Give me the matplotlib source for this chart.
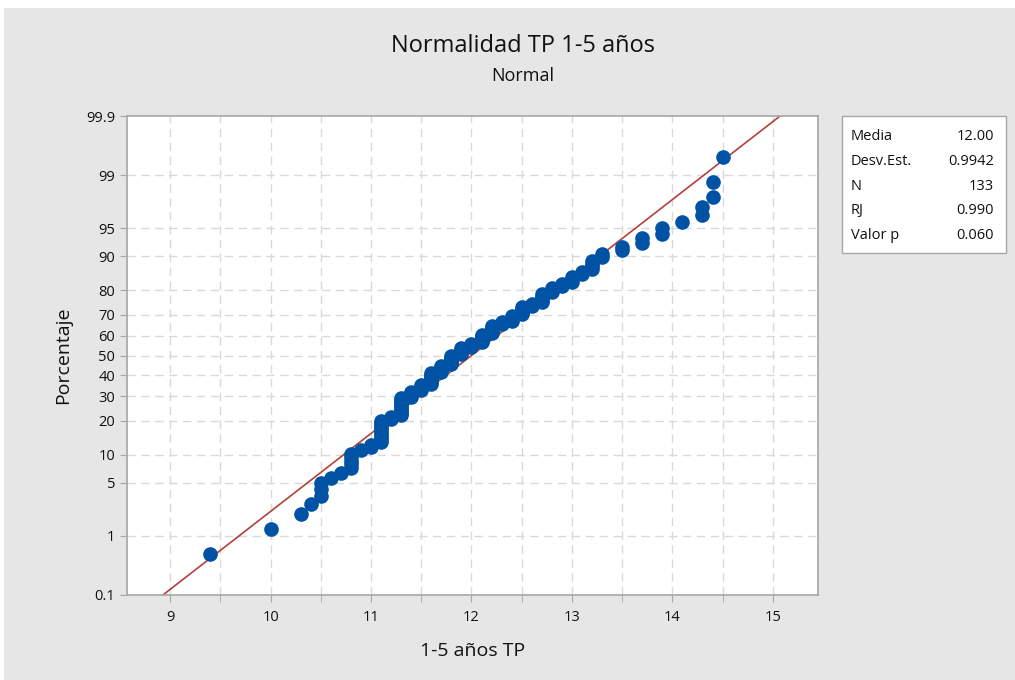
import numpy as np
import matplotlib.pyplot as plt
from matplotlib.patches import Rectangle
from statistics import NormalDist

plt.rcParams['font.family'] = ['Open Sans', 'DejaVu Sans']

# observed values (1-5 años TP) and how many times each occurs
values = [9.4, 10.0, 10.3, 10.4, 10.5, 10.6, 10.7, 10.8, 10.9, 11.0,
          11.1, 11.2, 11.3, 11.4, 11.5, 11.6, 11.7, 11.8, 11.9, 12.0,
          12.1, 12.2, 12.3, 12.4, 12.5, 12.6, 12.7, 12.8, 12.9, 13.0,
          13.1, 13.2, 13.3, 13.5, 13.7, 13.9, 14.1, 14.3, 14.4, 14.5]
counts = [1, 1, 1, 1, 3, 1, 1, 5, 1, 2,
          10, 2, 10, 4, 4, 8, 5, 7, 5, 3,
          6, 6, 2, 4, 5, 2, 5, 3, 2, 3,
          2, 4, 2, 2, 2, 2, 1, 2, 2, 1]

mean, sd = 12.00, 0.9942
pct_ticks = [0.1, 1, 5, 10, 20, 30, 40, 50, 60, 70, 80, 90, 95, 99, 99.9]
x_ticks = [9, 10, 11, 12, 13, 14, 15]
stat_labels = ["Media", "Desv.Est.", "N", "RJ", "Valor p"]
stat_values = ["12.00", "0.9942", "133", "0.990", "0.060"]

nd = NormalDist()
data = np.repeat(values, counts)
n = len(data)
ranks = np.arange(1, n + 1)
z_pts = np.array([nd.inv_cdf(p) for p in (ranks - 0.3) / (n + 0.4)])

bg = "#e6e6e6"
txt = "#111111"
fig = plt.figure(figsize=(10.15, 6.8), dpi=100, facecolor=bg)
fig.patches.append(Rectangle((0, 0.988), 1, 0.012, transform=fig.transFigure,
                             facecolor="white", edgecolor="none", zorder=-1))
fig.patches.append(Rectangle((0, 0), 0.004, 1, transform=fig.transFigure,
                             facecolor="white", edgecolor="none", zorder=-1))

ax = fig.add_axes([0.1251, 0.125, 0.6808, 0.7044])
ax.set_facecolor("white")

z_lo, z_hi = nd.inv_cdf(0.001), nd.inv_cdf(0.999)
xl = np.array([8.5, 15.5])
ax.plot(xl, (xl - mean) / sd, color="#b3403d", lw=1.2, zorder=2)
ax.plot(data, z_pts, "o", color="#0053a4", ms=9.5, mec="#0053a4", zorder=3)

ax.set_xlim(8.57, 15.45)
ax.set_ylim(z_lo, z_hi)
ax.set_yticks([nd.inv_cdf(p / 100) for p in pct_ticks])
ax.set_yticklabels([f"{p:g}" for p in pct_ticks])
ax.set_xticks(x_ticks)
ax.set_xticks(np.arange(9.5, 15.5, 1.0), minor=True)

grid_kw = dict(color="#d9d9d9", lw=1.0, ls=(0, (6, 4)), zorder=0)
for x in np.arange(9.0, 15.5, 0.5):
    ax.axvline(x, **grid_kw)
for p in pct_ticks[1:-1]:
    ax.axhline(nd.inv_cdf(p / 100), **grid_kw)

for s in ax.spines.values():
    s.set_color("#a6a6a6")
    s.set_linewidth(1.2)
ax.tick_params(which="both", length=5, color="#a6a6a6", labelsize=10.5,
               labelcolor=txt)
ax.tick_params(axis="x", pad=6)

ax.set_xlabel("1-5 años TP", fontsize=14, color=txt, labelpad=12)
ax.set_ylabel("Porcentaje", fontsize=14, color=txt, labelpad=10)

fig.text(0.5155, 0.933, "Normalidad TP 1-5 años", ha="center", va="center",
         fontsize=17, color=txt)
fig.text(0.5155, 0.888, "Normal", ha="center", va="center",
         fontsize=13, color=txt)

# statistics box
bx0, by0, bx1, by1 = 842 / 1015, 1 - 253 / 680, 1006 / 1015, 1 - 116 / 680
fig.patches.append(Rectangle((bx0, by0), bx1 - bx0, by1 - by0,
                             transform=fig.transFigure, facecolor="white",
                             edgecolor="#a6a6a6", lw=1.0))
for i, (lab, val) in enumerate(zip(stat_labels, stat_values)):
    y = 1 - (137 + i * 24.6) / 680
    fig.text(851 / 1015, y, lab, ha="left", va="center", fontsize=10.5,
             color=txt)
    fig.text(994 / 1015, y, val, ha="right", va="center", fontsize=10.5,
             color=txt)

fig.savefig("out.png", dpi=100, facecolor=bg)
